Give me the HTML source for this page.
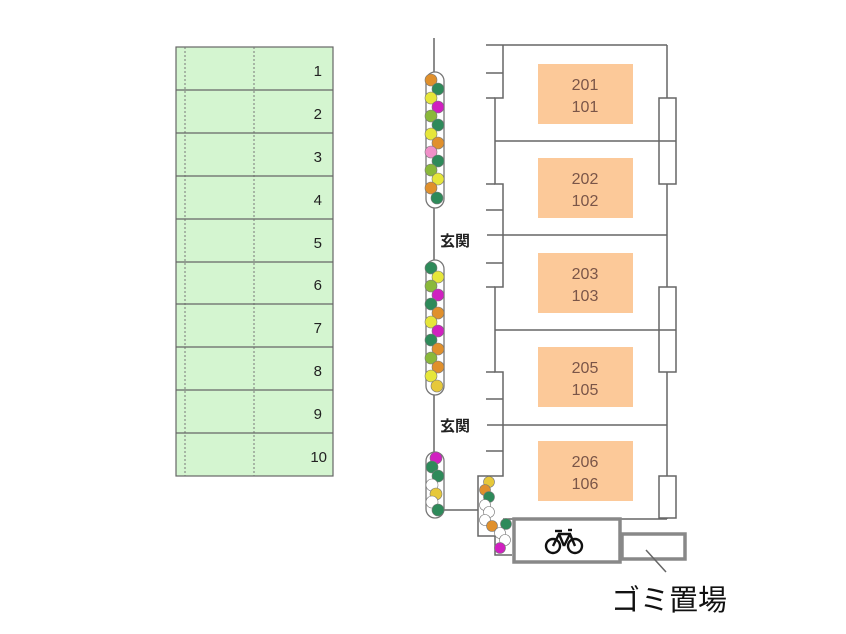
<!DOCTYPE html>
<html><head><meta charset="utf-8"><style>
html,body{margin:0;padding:0;background:#fff;}
svg{display:block;}
text{font-family:"Liberation Sans","Noto Sans CJK JP",sans-serif;}
</style></head><body>
<svg width="846" height="634" viewBox="0 0 846 634" xmlns="http://www.w3.org/2000/svg">
<!-- parking -->
<rect x="176" y="47" width="157" height="429" fill="#d4f5d0" stroke="#666" stroke-width="1.2"/>
<g stroke="#777" stroke-width="1" stroke-dasharray="2,2">
<line x1="185" y1="47" x2="185" y2="476"/><line x1="254" y1="47" x2="254" y2="476"/>
</g>
<g stroke="#666" stroke-width="1.2">
<line x1="176" y1="90" x2="333" y2="90"/><line x1="176" y1="133" x2="333" y2="133"/>
<line x1="176" y1="176" x2="333" y2="176"/><line x1="176" y1="219" x2="333" y2="219"/>
<line x1="176" y1="262" x2="333" y2="262"/><line x1="176" y1="304" x2="333" y2="304"/>
<line x1="176" y1="347" x2="333" y2="347"/><line x1="176" y1="390" x2="333" y2="390"/>
<line x1="176" y1="433" x2="333" y2="433"/>
</g>
<g font-size="15" fill="#222" text-anchor="end">
<text x="322" y="76">1</text><text x="322" y="119">2</text><text x="322" y="162">3</text>
<text x="322" y="205">4</text><text x="322" y="248">5</text><text x="322" y="290">6</text>
<text x="322" y="333">7</text><text x="322" y="376">8</text><text x="322" y="419">9</text>
<text x="327" y="462">10</text>
</g>
<!-- building lines -->
<g stroke="#666" stroke-width="1.5" fill="none">
<line x1="434" y1="38" x2="434" y2="452"/>
<line x1="486" y1="45" x2="667" y2="45"/>
<line x1="667" y1="45" x2="667" y2="519"/>
<polyline points="503,45 503,98 495,98 495,184 503,184 503,287 495,287 495,372 503,372 503,476 478,476 478,536 495,536 495,555 512,555"/>
<line x1="486" y1="73" x2="503" y2="73"/><line x1="486" y1="98" x2="495" y2="98"/>
<line x1="486" y1="184" x2="495" y2="184"/><line x1="486" y1="210" x2="503" y2="210"/>
<line x1="486" y1="263" x2="503" y2="263"/><line x1="486" y1="287" x2="495" y2="287"/>
<line x1="486" y1="372" x2="495" y2="372"/><line x1="486" y1="399" x2="503" y2="399"/>
<line x1="486" y1="451" x2="503" y2="451"/>
<line x1="495" y1="141" x2="675" y2="141"/>
<line x1="487" y1="235" x2="667" y2="235"/>
<line x1="495" y1="330" x2="675" y2="330"/>
<line x1="487" y1="425" x2="667" y2="425"/>
<line x1="503" y1="519" x2="667" y2="519"/>
<line x1="444" y1="510" x2="478" y2="510"/>
<rect x="659" y="98" width="17" height="86" fill="#fff"/>
<line x1="659" y1="141" x2="676" y2="141"/>
<rect x="659" y="287" width="17" height="85" fill="#fff"/>
<line x1="659" y1="330" x2="676" y2="330"/>
<rect x="659" y="476" width="17" height="42" fill="#fff"/>
</g>
<g font-size="15" font-weight="bold" fill="#222">
<text x="440" y="246">玄関</text><text x="440" y="431">玄関</text>
</g>
<!-- units -->
<g fill="#fcc999">
<rect x="538" y="64" width="95" height="60"/><rect x="538" y="158" width="95" height="60"/>
<rect x="538" y="253" width="95" height="60"/><rect x="538" y="347" width="95" height="60"/>
<rect x="538" y="441" width="95" height="60"/>
</g>
<g font-size="16" fill="#7a5548" text-anchor="middle">
<text x="585" y="90">201</text><text x="585" y="112">101</text>
<text x="585" y="184">202</text><text x="585" y="206">102</text>
<text x="585" y="279">203</text><text x="585" y="301">103</text>
<text x="585" y="373">205</text><text x="585" y="395">105</text>
<text x="585" y="467">206</text><text x="585" y="489">106</text>
</g>
<!-- capsules -->
<g fill="#fff" stroke="#777" stroke-width="1.3">
<rect x="426" y="72" width="18" height="136" rx="9"/>
<rect x="426" y="260" width="18" height="135" rx="9"/>
<rect x="426" y="452" width="18" height="66" rx="9"/>
</g>
<g stroke="#777" stroke-width="0.6">
<circle cx="431" cy="80" r="6" fill="#e0902c"/><circle cx="438" cy="89" r="6" fill="#2e8a5a"/>
<circle cx="431" cy="98" r="6" fill="#e6e63a"/><circle cx="438" cy="107" r="6" fill="#d020c0"/>
<circle cx="431" cy="116" r="6" fill="#8ab83a"/><circle cx="438" cy="125" r="6" fill="#2e8a5a"/>
<circle cx="431" cy="134" r="6" fill="#e6e63a"/><circle cx="438" cy="143" r="6" fill="#e0902c"/>
<circle cx="431" cy="152" r="6" fill="#f090c8"/><circle cx="438" cy="161" r="6" fill="#2e8a5a"/>
<circle cx="431" cy="170" r="6" fill="#8ab83a"/><circle cx="438" cy="179" r="6" fill="#e6e63a"/>
<circle cx="431" cy="188" r="6" fill="#e0902c"/><circle cx="437" cy="198" r="6" fill="#2e8a5a"/>
<circle cx="431" cy="268" r="6" fill="#2e8a5a"/><circle cx="438" cy="277" r="6" fill="#e6e63a"/>
<circle cx="431" cy="286" r="6" fill="#8ab83a"/><circle cx="438" cy="295" r="6" fill="#d020c0"/>
<circle cx="431" cy="304" r="6" fill="#2e8a5a"/><circle cx="438" cy="313" r="6" fill="#e0902c"/>
<circle cx="431" cy="322" r="6" fill="#e6e63a"/><circle cx="438" cy="331" r="6" fill="#d020c0"/>
<circle cx="431" cy="340" r="6" fill="#2e8a5a"/><circle cx="438" cy="349" r="6" fill="#e0902c"/>
<circle cx="431" cy="358" r="6" fill="#8ab83a"/><circle cx="438" cy="367" r="6" fill="#e0902c"/>
<circle cx="431" cy="376" r="6" fill="#e6e63a"/><circle cx="437" cy="386" r="6" fill="#e6c83a"/>
<circle cx="436" cy="458" r="6" fill="#d020c0"/><circle cx="432" cy="467" r="6" fill="#2e8a5a"/>
<circle cx="438" cy="476" r="6" fill="#2e8a5a"/><circle cx="432" cy="485" r="6" fill="#fff"/>
<circle cx="436" cy="494" r="6" fill="#e6c83a"/><circle cx="432" cy="502" r="6" fill="#fff"/>
<circle cx="438" cy="510" r="6" fill="#2e8a5a"/>
<circle cx="489" cy="482" r="5.5" fill="#e6c83a"/><circle cx="485" cy="490" r="5.5" fill="#e0902c"/>
<circle cx="489" cy="497" r="5.5" fill="#2e8a5a"/><circle cx="485" cy="505" r="5.5" fill="#fff"/>
<circle cx="489" cy="512" r="5.5" fill="#fff"/><circle cx="485" cy="520" r="5.5" fill="#fff"/>
<circle cx="492" cy="526" r="5.5" fill="#e0902c"/><circle cx="506" cy="524" r="5.5" fill="#2e8a5a"/>
<circle cx="500" cy="533" r="5.5" fill="#fff"/><circle cx="505" cy="540" r="5.5" fill="#fff"/>
<circle cx="500" cy="548" r="5.5" fill="#d020c0"/>
</g>
<!-- bike & gomi -->
<rect x="622" y="534" width="63" height="25" fill="#fff" stroke="#888" stroke-width="3.5"/>
<rect x="514" y="519" width="106" height="43" fill="#fff" stroke="#888" stroke-width="3.5"/>
<g stroke="#111" stroke-width="2.4" fill="none">
<circle cx="553" cy="546" r="7"/><circle cx="575" cy="546" r="7"/>
<polyline points="553,546 559,534 570,534 575,546"/>
<line x1="559" y1="534" x2="564" y2="546"/><line x1="564" y1="546" x2="570" y2="534"/>
<line x1="555" y1="531" x2="562" y2="531"/><line x1="568" y1="530" x2="572" y2="530"/>
</g>
<line x1="646" y1="550" x2="666" y2="572" stroke="#666" stroke-width="1.5"/>
<text x="611" y="610" font-size="29" fill="#111">ゴミ置場</text>
</svg>
</body></html>
